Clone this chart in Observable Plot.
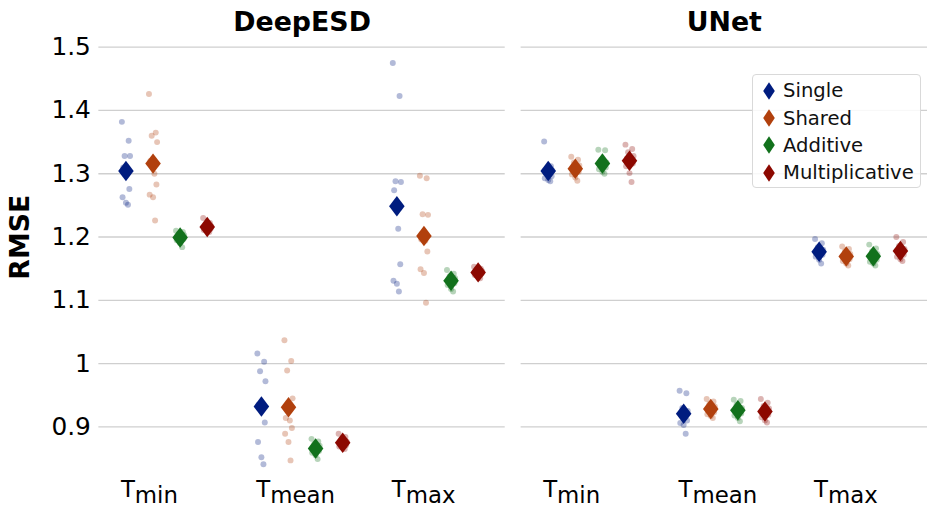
<!DOCTYPE html>
<html>
<head>
<meta charset="utf-8">
<script src="https://cdn.jsdelivr.net/npm/d3@7"></script>
<script src="https://cdn.jsdelivr.net/npm/@observablehq/plot@0.6"></script>
<style>
  html, body { margin: 0; padding: 0; background: white; }
  #wrap { position: relative; width: 927px; height: 515px; overflow: hidden; font-family: "DejaVu Sans", sans-serif; }
  #legend { position: absolute; left: 752px; top: 74px; width: 169px; height: 114px; box-sizing: border-box;
    border: 1px solid #d9d9d9; border-radius: 4px; background: rgba(255,255,255,0.85); padding-top: 2px; }
  .row { height: 27.4px; display: flex; align-items: center; font-size: 19.6px; color: #111; white-space: nowrap; }
  .row svg { margin-left: 10px; margin-right: 8px; }
</style>
</head>
<body>
<div id="wrap"><div id="legend"></div></div>
<script>
// ---- data ----
const models = ["DeepESD", "UNet"];
const variables = ["Tmin", "Tmean", "Tmax"];
const varBase = "T";
const varSubs = ["min", "mean", "max"];
const series = ["Single", "Shared", "Additive", "Multiplicative"];
const colors = ["#001c7f", "#b1400d", "#12711c", "#8c0800"];
const yTicks = [0.9, 1, 1.1, 1.2, 1.3, 1.4, 1.5];

// each array: [Single, Shared, Additive, Multiplicative] runs
const deepesdTmin = [
  [1.382, 1.352, 1.328, 1.328, 1.310, 1.300, 1.276, 1.263, 1.254, 1.251],
  [1.426, 1.365, 1.360, 1.350, 1.320, 1.300, 1.283, 1.267, 1.263, 1.226],
  [1.210, 1.208, 1.205, 1.203, 1.201, 1.199, 1.197, 1.195, 1.190, 1.184],
  [1.230, 1.222, 1.219, 1.217, 1.215, 1.214, 1.213, 1.211, 1.210, 1.208]
];
const deepesdTmean = [
  [1.016, 1.003, 0.988, 0.972, 0.935, 0.930, 0.907, 0.876, 0.852, 0.841],
  [1.037, 1.004, 0.989, 0.945, 0.914, 0.910, 0.898, 0.889, 0.876, 0.847],
  [0.881, 0.877, 0.873, 0.870, 0.867, 0.865, 0.862, 0.859, 0.855, 0.849],
  [0.889, 0.884, 0.880, 0.877, 0.875, 0.873, 0.871, 0.869, 0.867, 0.865]
];
const deepesdTmax = [
  [1.475, 1.423, 1.288, 1.287, 1.274, 1.213, 1.157, 1.131, 1.126, 1.114],
  [1.297, 1.293, 1.236, 1.235, 1.196, 1.194, 1.177, 1.149, 1.143, 1.096],
  [1.148, 1.142, 1.138, 1.135, 1.132, 1.130, 1.127, 1.124, 1.118, 1.114],
  [1.153, 1.150, 1.148, 1.146, 1.145, 1.144, 1.142, 1.140, 1.138, 1.135]
];
const unetTmin = [
  [1.351, 1.312, 1.308, 1.305, 1.302, 1.299, 1.296, 1.293, 1.290, 1.288],
  [1.327, 1.322, 1.318, 1.313, 1.309, 1.306, 1.303, 1.299, 1.294, 1.289],
  [1.338, 1.337, 1.322, 1.318, 1.315, 1.312, 1.310, 1.307, 1.303, 1.300],
  [1.346, 1.339, 1.334, 1.328, 1.324, 1.320, 1.316, 1.312, 1.301, 1.287]
];
const unetTmean = [
  [0.957, 0.953, 0.930, 0.925, 0.920, 0.915, 0.910, 0.906, 0.903, 0.889],
  [0.944, 0.940, 0.936, 0.932, 0.929, 0.926, 0.923, 0.920, 0.917, 0.914],
  [0.943, 0.941, 0.935, 0.930, 0.927, 0.924, 0.921, 0.918, 0.914, 0.909],
  [0.944, 0.938, 0.933, 0.929, 0.925, 0.922, 0.919, 0.915, 0.910, 0.907]
];
const unetTmax = [
  [1.197, 1.190, 1.184, 1.180, 1.177, 1.175, 1.172, 1.169, 1.164, 1.158],
  [1.185, 1.181, 1.177, 1.173, 1.170, 1.168, 1.165, 1.162, 1.158, 1.155],
  [1.188, 1.182, 1.177, 1.173, 1.170, 1.167, 1.164, 1.161, 1.158, 1.155],
  [1.200, 1.192, 1.186, 1.181, 1.178, 1.175, 1.172, 1.169, 1.165, 1.162]
];

// ---- build tables ----
const blocks = [
  ["DeepESD", "Tmin", deepesdTmin], ["DeepESD", "Tmean", deepesdTmean], ["DeepESD", "Tmax", deepesdTmax],
  ["UNet", "Tmin", unetTmin], ["UNet", "Tmean", unetTmean], ["UNet", "Tmax", unetTmax]
];
const dodge = 0.2;                 // seaborn-style dodge width per hue
const jitterPattern = [-0.03, 0.02, -0.01, 0.03, -0.02, 0.01, 0.025, -0.025, 0.0, 0.015];
const points = [], means = [];
for (const [model, variable, arr] of blocks) {
  const vi = variables.indexOf(variable);
  arr.forEach((vals, si) => {
    const xc = vi + (si - 1.5) * dodge;
    vals.forEach((v, k) => points.push({model, variable, series: series[si], x: xc + jitterPattern[k % jitterPattern.length], value: v}));
    means.push({model, variable, series: series[si], x: xc, value: d3.mean(vals)});
  });
}
const labelRows = models.flatMap(m => variables.map((v, i) => ({model: m, i, sub: varSubs[i]})));

const thinDiamond = {
  draw(ctx, size) {
    const s = Math.sqrt(size / Math.PI);
    const w = s * 0.76;
    ctx.moveTo(0, -s); ctx.lineTo(w, 0); ctx.lineTo(0, s); ctx.lineTo(-w, 0); ctx.closePath();
  }
};

const chart = Plot.plot({
  width: 933, height: 515,
  marginLeft: 99, marginRight: 0, marginTop: 40, marginBottom: 41,
  style: {fontFamily: "DejaVu Sans", fontSize: "24px", color: "#000", background: "white", overflow: "visible"},
  fx: {domain: models, paddingInner: 16 / 425, paddingOuter: 0, axis: null},
  x: {domain: [-0.5, 2.5], axis: null},
  y: {domain: [0.8295, 1.511], axis: null},
  color: {domain: series, range: colors},
  marks: [
    Plot.ruleY(yTicks, {stroke: "#cfcfcf", strokeWidth: 1.3}),
    Plot.axisY({ticks: yTicks, tickSize: 0, tickPadding: 8, tickFormat: d => String(d), fontSize: 25, label: null}),
    Plot.dot(points, {fx: "model", x: "x", y: "value", fill: "series", r: 3, fillOpacity: 0.3}),
    Plot.dot(means, {fx: "model", x: "x", y: "value", fill: "series", r: 10.3, symbol: thinDiamond}),
    Plot.text(models, {fx: d => d, text: d => d, frameAnchor: "top", dy: -28, fontWeight: "bold", fontSize: 27}),
    Plot.text(labelRows, {fx: "model", x: "i", text: () => varBase, frameAnchor: "bottom", textAnchor: "start", dx: -46, dy: 26, fontSize: 23}),
    Plot.text(labelRows, {fx: "model", x: "i", text: "sub", frameAnchor: "bottom", textAnchor: "start", dx: -32, dy: 32, fontSize: 23}),
    Plot.text(["RMSE"], {fx: () => "DeepESD", text: d => d, frameAnchor: "left", rotate: -90, dx: -79, dy: 24, fontWeight: "bold", fontSize: 27})
  ]
});
const wrap = document.getElementById("wrap");
wrap.insertBefore(chart, wrap.firstChild);

// legend
const legend = document.getElementById("legend");
series.forEach((s, i) => {
  const row = document.createElement("div");
  row.className = "row";
  row.innerHTML = `<svg width="12" height="18" viewBox="-6 -9 12 18"><path d="M0,-8.8L5.8,0L0,8.8L-5.8,0Z" fill="${colors[i]}"/></svg><span>${s}</span>`;
  legend.appendChild(row);
});
</script>
</body>
</html>
